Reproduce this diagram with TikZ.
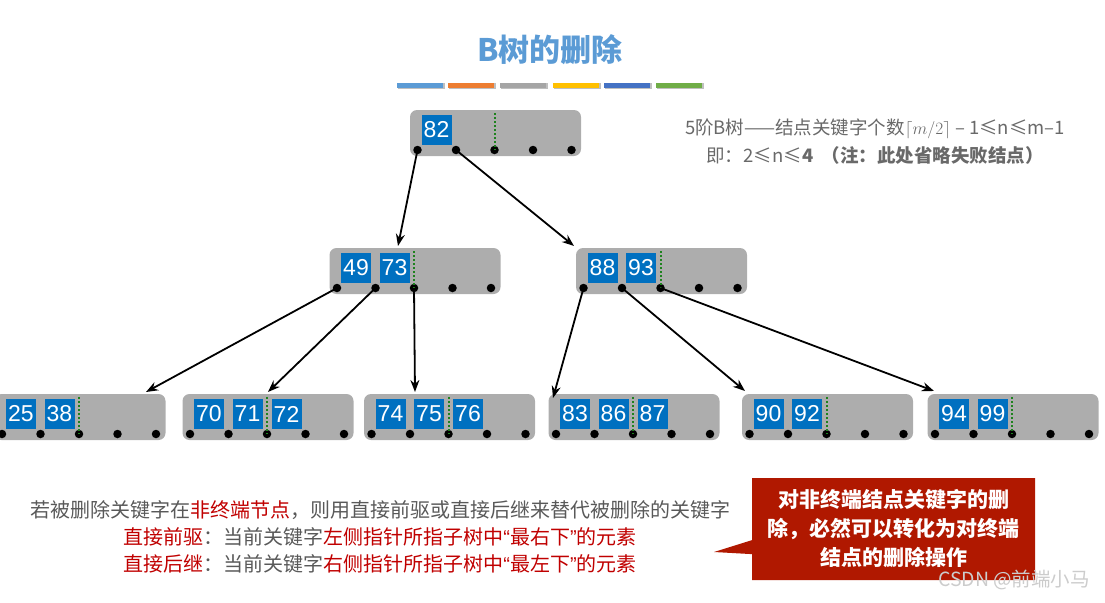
\documentclass[tikz,border=0pt]{standalone}
\usepackage{fontspec}
\setmainfont{Noto Sans CJK SC}
\newfontfamily\keyfont{Liberation Sans}
\usepackage{tikz}
\usetikzlibrary{arrows.meta,shapes.callouts}

\definecolor{boxgray}{RGB}{173,173,173}
\definecolor{keyblue}{RGB}{0,112,192}
\definecolor{ptrgreen}{RGB}{30,130,30}
\definecolor{titleblue}{RGB}{91,155,213}
\definecolor{infogray}{RGB}{105,105,105}
\definecolor{txtgray}{RGB}{89,89,89}
\definecolor{txtred}{RGB}{192,0,0}
\definecolor{notered}{RGB}{176,24,0}
\definecolor{barblue}{RGB}{91,155,213}
\definecolor{barorange}{RGB}{237,125,49}
\definecolor{bargray}{RGB}{165,165,165}
\definecolor{baryellow}{RGB}{255,192,0}
\definecolor{bardblue}{RGB}{68,114,196}
\definecolor{bargreen}{RGB}{112,173,71}

\tikzset{
  bnode/.style={fill=boxgray,rounded corners=7pt,minimum width=171pt,minimum height=46pt,inner sep=0pt},
  bkey/.style={fill=keyblue,text=white,minimum size=30pt,inner sep=0pt,font=\keyfont\fontsize{23}{23}\selectfont},
  bptr/.style={circle,fill=black,inner sep=0pt,minimum size=8.5pt},
  bsep/.style={ptrgreen,dotted,line width=2pt},
  barr/.style={-{Stealth[length=12pt,width=9pt]},line width=1.8pt},
  bar/.style={minimum width=46pt,minimum height=5pt,inner sep=0pt},
}
\newcommand{\openq}{{\keyfont “}}
\newcommand{\closeq}{{\keyfont ”}}

\begin{document}
\begin{tikzpicture}[x=1pt,y=-1pt]
\useasboundingbox (0,0) rectangle (1105,602) ;

% title and colour bars
\node (title) [text=titleblue,font=\bfseries\fontsize{31}{31}\selectfont] at (550,50) {B树的删除} ;
\foreach \c/\x in {barblue/420,barorange/470.5,bargray/522.5,baryellow/575.5,bardblue/626.5,bargreen/679} {
  \fill [black!25] (\x-22,83) rectangle (\x+25,89) ;
  \node (bar-\c) [bar,fill=\c] at (\x,85) {} ;
}

% root
\node (r) [bnode] at (495.5,133) {} ;
\node (k82) [bkey] at (436.5,130) {82} ;
\foreach \i in {1,...,5} \node (r\i) [bptr] at ({417.5+38.5*(\i-1)},150) {} ;
\draw [bsep] (494.5,113) -- (r3.center) ;

% second level
\node (na) [bnode] at (415,271) {} ;
\node (k49) [bkey] at (356,268) {49} ;
\node (k73) [bkey] at (394.5,268) {73} ;
\foreach \i in {1,...,5} \node (a\i) [bptr] at ({337+38.5*(\i-1)},288) {} ;
\draw [bsep] (414,251) -- (a3.center) ;

\node (nb) [bnode] at (661.5,271) {} ;
\node (k88) [bkey] at (602.5,268) {88} ;
\node (k93) [bkey] at (641,268) {93} ;
\foreach \i in {1,...,5} \node (b\i) [bptr] at ({583.5+38.5*(\i-1)},288) {} ;
\draw [bsep] (660.5,251) -- (b3.center) ;

% leaves
\node (c1) [bnode] at (80,417) {} ;
\node (k25) [bkey] at (21,414) {25} ;
\node (k38) [bkey] at (59.5,414) {38} ;
\foreach \i in {1,...,5} \node (c1\i) [bptr] at ({2+38.5*(\i-1)},434) {} ;
\draw [bsep] (79,397) -- (c13.center) ;

\node (c2) [bnode] at (268,417) {} ;
\node (k70) [bkey] at (209,414) {70} ;
\node (k71) [bkey] at (247.5,414) {71} ;
\node (k72) [bkey] at (286.5,414) {72} ;
\foreach \i in {1,...,5} \node (c2\i) [bptr] at ({190+38.5*(\i-1)},434) {} ;
\draw [bsep] (267,397) -- (c23.center) ;

\node (c3) [bnode] at (449.5,417) {} ;
\node (k74) [bkey] at (390.5,414) {74} ;
\node (k75) [bkey] at (429,414) {75} ;
\node (k76) [bkey] at (468,414) {76} ;
\foreach \i in {1,...,5} \node (c3\i) [bptr] at ({371.5+38.5*(\i-1)},434) {} ;
\draw [bsep] (448.5,397) -- (c33.center) ;

\node (c4) [bnode] at (634,417) {} ;
\node (k83) [bkey] at (575,414) {83} ;
\node (k86) [bkey] at (613.5,414) {86} ;
\node (k87) [bkey] at (652.5,414) {87} ;
\foreach \i in {1,...,5} \node (c4\i) [bptr] at ({556+38.5*(\i-1)},434) {} ;
\draw [bsep] (633,397) -- (c43.center) ;

\node (c5) [bnode] at (827.5,417) {} ;
\node (k90) [bkey] at (768.5,414) {90} ;
\node (k92) [bkey] at (807,414) {92} ;
\foreach \i in {1,...,5} \node (c5\i) [bptr] at ({749.5+38.5*(\i-1)},434) {} ;
\draw [bsep] (826.5,397) -- (c53.center) ;

\node (c6) [bnode] at (1013,417) {} ;
\node (k94) [bkey] at (954,414) {94} ;
\node (k99) [bkey] at (992.5,414) {99} ;
\foreach \i in {1,...,5} \node (c6\i) [bptr] at ({935+38.5*(\i-1)},434) {} ;
\draw [bsep] (1012,397) -- (c63.center) ;

% where the arrows land
\coordinate (ta) at (398,246) ;
\coordinate (tb) at (574,246) ;
\coordinate (tc1) at (146,392) ;
\coordinate (tc2) at (268,392) ;
\coordinate (tc3) at (415,392) ;
\coordinate (tc4) at (553,398) ;
\coordinate (tc5) at (745,391) ;
\coordinate (tc6) at (934,391) ;
\draw [barr] (r1.center) to (ta) ;
\draw [barr] (r2.center) to (tb) ;
\draw [barr] (a1.center) to (tc1) ;
\draw [barr] (a2.center) to (tc2) ;
\draw [barr] (a3.center) to (tc3) ;
\draw [barr] (b1.center) to (tc4) ;
\draw [barr] (b2.center) to (tc5) ;
\draw [barr] (b3.center) to (tc6) ;

% texts
\node (info) [align=center,text=infogray,font=\fontsize{18.5}{28}\selectfont] at (875,142) {5阶B树——结点关键字个数$\lceil m/2\rceil$ – 1≤n≤m–1\\即：2≤n≤\textbf{4}\ \ \textbf{（注：此处省略失败结点）}} ;
\node (rule) [align=center,text=txtgray,font=\fontsize{20}{27}\selectfont] at (380,537) {若被删除关键字在\textcolor{txtred}{非终端节点}，则用直接前驱或直接后继来替代被删除的关键字\\\textcolor{txtred}{直接前驱}：当前关键字\textcolor{txtred}{左侧指针所指子树中\openq 最右下\closeq 的元素}\\\textcolor{txtred}{直接后继}：当前关键字\textcolor{txtred}{右侧指针所指子树中\openq 最左下\closeq 的元素}} ;
\node (note) [rectangle callout,callout absolute pointer={(714,552)},callout pointer width=14pt,fill=notered,text=white,font=\bfseries\fontsize{21}{29}\selectfont,minimum width=283pt,minimum height=102pt,text width=270pt,align=center] at (893.5,529) {对非终端结点关键字的删\\除，必然可以转化为对终端\\结点的删除操作} ;
\node (mark) [text=black!20,font=\fontsize{19.5}{20}\selectfont] at (1014,580) {CSDN @前端小马} ;
\end{tikzpicture}
\end{document}
